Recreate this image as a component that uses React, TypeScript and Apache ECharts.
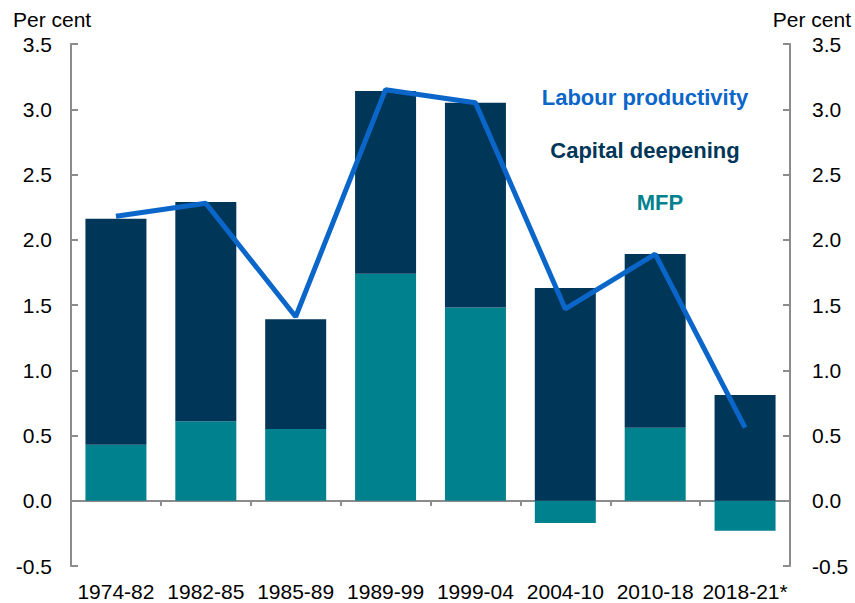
import React, { useEffect, useRef } from "react";
import * as echarts from "echarts";

const categories = ["1974-82", "1982-85", "1985-89", "1989-99", "1999-04", "2004-10", "2010-18", "2018-21*"];
const mfp = [0.43, 0.61, 0.55, 1.74, 1.48, -0.17, 0.56, -0.23];
const capitalDeepening = [1.73, 1.68, 0.84, 1.40, 1.57, 1.63, 1.33, 0.81];
const labourProductivity = [2.18, 2.28, 1.41, 3.15, 3.05, 1.47, 1.89, 0.56];
const yTicks = { min: -0.5, max: 3.5, interval: 0.5 };

const FONT = "'Liberation Sans', Arial, sans-serif";
const AXIS_COLOR = "#8c8c8c";
const NAVY = "#003658";
const TEAL = "#00828e";
const BLUE = "#0b66c9";

export default function App() {
  const ref = useRef<HTMLDivElement>(null);
  useEffect(() => {
    if (!ref.current) return;
    const chart = echarts.init(ref.current, null, { renderer: "svg" });
    const yAxisBase = {
      type: "value",
      min: yTicks.min,
      max: yTicks.max,
      interval: yTicks.interval,
      splitLine: { show: false },
      axisLine: { show: true, lineStyle: { color: AXIS_COLOR, width: 2 } },
      axisTick: { show: true, inside: true, length: 7, lineStyle: { color: AXIS_COLOR, width: 2 } },
      axisLabel: { color: "#000", fontSize: 21, fontFamily: FONT, formatter: (v: number) => v.toFixed(1) },
    };
    chart.setOption({
      animation: false,
      backgroundColor: "#fff",
      grid: { left: 71, right: 65, top: 44, bottom: 37 },
      xAxis: [
        {
          type: "category",
          data: categories,
          position: "bottom",
          axisLine: { onZero: true, lineStyle: { color: AXIS_COLOR, width: 2 } },
          axisTick: { show: true, length: 5, lineStyle: { color: AXIS_COLOR, width: 2 } },
          axisLabel: { show: false },
        },
        {
          type: "category",
          data: categories,
          position: "bottom",
          axisLine: { show: false, onZero: false },
          axisTick: { show: false },
          axisLabel: { color: "#000", fontSize: 21, fontFamily: FONT, margin: 15, interval: 0 },
        },
        {
          type: "category",
          data: categories,
          position: "top",
          axisLine: { show: false, onZero: true, onZeroAxisIndex: 0 },
          axisTick: { show: true, inside: true, length: 5, lineStyle: { color: AXIS_COLOR, width: 2 } },
          axisLabel: { show: false },
        },
      ],
      yAxis: [
        { ...yAxisBase, position: "left", axisLabel: { ...yAxisBase.axisLabel, margin: 19 } },
        { ...yAxisBase, position: "right", axisLabel: { ...yAxisBase.axisLabel, margin: 22 } },
      ],
      series: [
        {
          name: "MFP",
          type: "bar",
          stack: "total",
          data: mfp,
          barWidth: 61,
          itemStyle: { color: TEAL },
        },
        {
          name: "Capital deepening",
          type: "bar",
          stack: "total",
          data: capitalDeepening,
          barWidth: 61,
          itemStyle: { color: NAVY },
        },
        {
          name: "Labour productivity",
          type: "line",
          data: labourProductivity,
          showSymbol: false,
          symbol: "none",
          lineStyle: { color: BLUE, width: 5 },
          z: 5,
        },
      ],
      graphic: [
        { type: "text", left: 13, top: 9, style: { text: "Per cent", fontSize: 21, fontFamily: FONT, fill: "#000" } },
        { type: "text", right: 4, top: 9, style: { text: "Per cent", fontSize: 21, fontFamily: FONT, fill: "#000" } },
        { type: "text", x: 645, y: 97, style: { text: "Labour productivity", fontSize: 22, fontWeight: "bold", fontFamily: FONT, fill: BLUE, align: "center", verticalAlign: "middle" } },
        { type: "text", x: 645, y: 150, style: { text: "Capital deepening", fontSize: 22, fontWeight: "bold", fontFamily: FONT, fill: NAVY, align: "center", verticalAlign: "middle" } },
        { type: "text", x: 660, y: 202, style: { text: "MFP", fontSize: 22, fontWeight: "bold", fontFamily: FONT, fill: TEAL, align: "center", verticalAlign: "middle" } },
      ],
    });
    return () => chart.dispose();
  }, []);
  return <div ref={ref} style={{ width: 855, height: 603, position: "absolute", left: 0, top: 0 }} />;
}
